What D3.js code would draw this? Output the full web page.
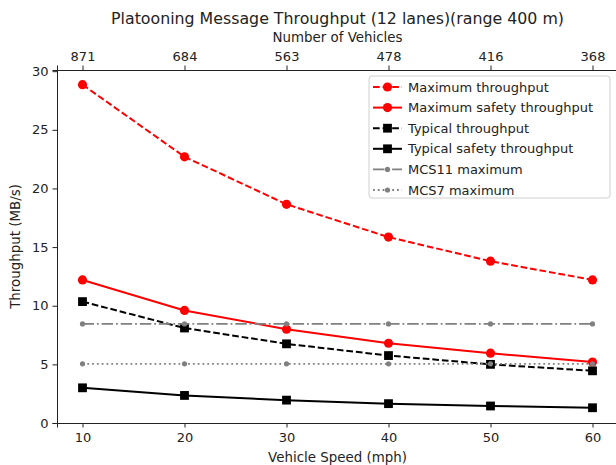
<!DOCTYPE html>
<html>
<head>
<meta charset="utf-8">
<script src="https://cdn.jsdelivr.net/npm/d3@7"></script>
<style>
  html, body { margin: 0; padding: 0; background: #fff; }
  svg { display: block; font-family: "DejaVu Sans", sans-serif; }
</style>
</head>
<body>
<svg id="chart" width="616" height="465"></svg>
<script>
// Vehicle speeds (mph) on the bottom axis
const speeds = [10, 20, 30, 40, 50, 60];
// Number of vehicles corresponding to each speed (top axis)
const vehicleCounts = ["871", "684", "563", "478", "416", "368"];
const yTicks = [0, 5, 10, 15, 20, 25, 30];

// Throughput series (MB/s)
const maxThroughput       = [28.85, 22.7, 18.65, 15.85, 13.8, 12.2];
const maxSafetyThroughput = [12.2, 9.6, 8.0, 6.8, 5.95, 5.2];
const typThroughput       = [10.35, 8.1, 6.75, 5.75, 5.0, 4.45];
const typSafetyThroughput = [3.0, 2.35, 1.95, 1.65, 1.45, 1.3];
const mcs11Max            = [8.45, 8.45, 8.45, 8.45, 8.45, 8.45];
const mcs7Max             = [5.05, 5.05, 5.05, 5.05, 5.05, 5.05];

const series = [
  { name: "Maximum throughput",        values: maxThroughput,       color: "#ff0000", dash: "6.7,2.9",              marker: "circle", size: 4.6, width: 2 },
  { name: "Maximum safety throughput", values: maxSafetyThroughput, color: "#ff0000", dash: null,                   marker: "circle", size: 4.6, width: 2 },
  { name: "Typical throughput",        values: typThroughput,       color: "#000000", dash: "6.7,2.9",              marker: "square", size: 4.4, width: 2 },
  { name: "Typical safety throughput", values: typSafetyThroughput, color: "#000000", dash: null,                   marker: "square", size: 4.4, width: 2 },
  { name: "MCS11 maximum",             values: mcs11Max,            color: "#808080", dash: "11.5,2.9,1.8,2.9",     marker: "circle", size: 2.6, width: 1.8 },
  { name: "MCS7 maximum",              values: mcs7Max,             color: "#808080", dash: "1.8,3",                marker: "circle", size: 2.6, width: 1.8 }
];

const svg = d3.select("#chart");
const plotLeft = 57, plotRight = 618, plotTop = 70, plotBottom = 423;

const x = d3.scaleLinear().domain([7.5, 62.5]).range([plotLeft, plotRight]);
const y = d3.scaleLinear().domain([0, 30.1]).range([plotBottom, plotTop]);

// Axes
const axisFont = "13px";
const gx = svg.append("g").attr("transform", `translate(0,${plotBottom})`)
  .call(d3.axisBottom(x).tickValues(speeds).tickSize(4.5).tickPadding(5).tickFormat(d3.format("d")));
const gxTop = svg.append("g").attr("transform", `translate(0,${plotTop})`)
  .call(d3.axisTop(x).tickValues(speeds).tickSize(4.5).tickPadding(5).tickFormat((d, i) => vehicleCounts[i]));
const gy = svg.append("g").attr("transform", `translate(${plotLeft},0)`)
  .call(d3.axisLeft(y).tickValues(yTicks).tickSize(4.5).tickPadding(4).tickFormat(d3.format("d")));

[gx, gxTop, gy].forEach(g => {
  g.selectAll("text").attr("font-size", axisFont).attr("fill", "#222").attr("font-family", "DejaVu Sans, sans-serif");
  g.selectAll("line").attr("stroke", "#222").attr("stroke-width", 1);
  g.select(".domain").attr("stroke", "#222").attr("stroke-width", 1);
});

// Titles and axis labels
const midX = (plotLeft + plotRight) / 2;
svg.append("text").attr("x", midX).attr("y", 24)
  .attr("text-anchor", "middle").attr("font-size", "15.8px").attr("fill", "#222")
  .text("Platooning Message Throughput (12 lanes)(range 400 m)");
svg.append("text").attr("x", midX).attr("y", 42)
  .attr("text-anchor", "middle").attr("font-size", "13.4px").attr("fill", "#222")
  .text("Number of Vehicles");
svg.append("text").attr("x", midX).attr("y", 462)
  .attr("text-anchor", "middle").attr("font-size", "13.4px").attr("fill", "#222")
  .text("Vehicle Speed (mph)");
svg.append("text").attr("transform", `translate(20,${(plotTop + plotBottom) / 2}) rotate(-90)`)
  .attr("text-anchor", "middle").attr("font-size", "13.4px").attr("fill", "#222")
  .text("Throughput (MB/s)");

// Lines and markers
const line = d3.line().x((d, i) => x(speeds[i])).y(d => y(d));

function drawMarker(g, s, cx, cy) {
  if (s.marker === "circle") {
    g.append("circle").attr("cx", cx).attr("cy", cy).attr("r", s.size).attr("fill", s.color);
  } else {
    g.append("rect").attr("x", cx - s.size).attr("y", cy - s.size)
      .attr("width", s.size * 2).attr("height", s.size * 2).attr("fill", s.color);
  }
}

series.forEach(s => {
  const g = svg.append("g");
  g.append("path").datum(s.values).attr("d", line)
    .attr("fill", "none").attr("stroke", s.color).attr("stroke-width", s.width)
    .attr("stroke-dasharray", s.dash);
  s.values.forEach((v, i) => drawMarker(g, s, x(speeds[i]), y(v)));
});

// Legend
const lg = svg.append("g");
lg.append("rect").attr("x", 369).attr("y", 76).attr("width", 241).attr("height", 122)
  .attr("rx", 3).attr("fill", "#fff").attr("fill-opacity", 0.8)
  .attr("stroke", "#d0d0d0").attr("stroke-width", 1);
series.forEach((s, i) => {
  const cy = 87 + i * 20.6;
  const g = lg.append("g");
  g.append("line").attr("x1", 373).attr("x2", 402).attr("y1", cy).attr("y2", cy)
    .attr("stroke", s.color).attr("stroke-width", s.width).attr("stroke-dasharray", s.dash);
  drawMarker(g, s, 387.5, cy);
  g.append("text").attr("x", 408).attr("y", cy).attr("dy", "0.35em")
    .attr("font-size", "13px").attr("fill", "#222").text(s.name);
});
</script>
</body>
</html>
